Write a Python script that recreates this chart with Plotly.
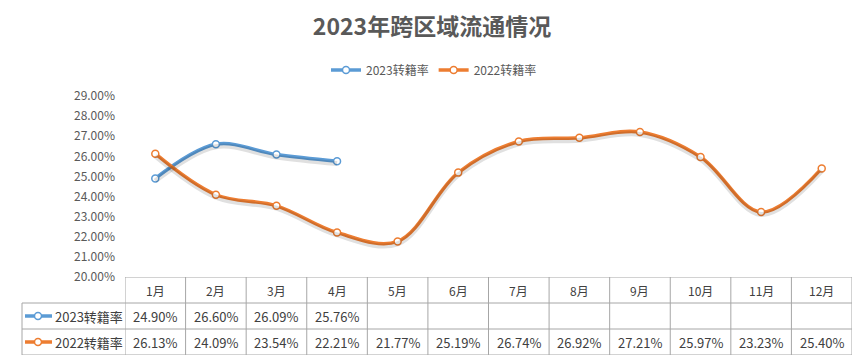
import plotly.graph_objects as go

months = ["1月", "2月", "3月", "4月", "5月", "6月", "7月", "8月", "9月", "10月", "11月", "12月"]
rate_2023 = [24.90, 26.60, 26.09, 25.76, None, None, None, None, None, None, None, None]
rate_2022 = [26.13, 24.09, 23.54, 22.21, 21.77, 25.19, 26.74, 26.92, 27.21, 25.97, 23.23, 25.40]
series_names = ["2023转籍率", "2022转籍率"]
series_colors = ["#5B9BD5", "#ED7D31"]
title_text = "2023年跨区域流通情况"

FONT = "Noto Sans CJK SC, Microsoft YaHei, sans-serif"
TXT = "#404040"
AX = "#595959"
GRID = "#a6a6a6"

# page body adds an 8px offset; compensate
OFF = 8
W, H = 865, 362
ML = 125 - OFF
MT = 96 - OFF
MR = W - (852 - OFF)
MB = H - (355 - OFF)
PW = W - ML - MR
PH = H - MT - MB
table_h = 78
split = table_h / PH


def px_x(p):
    return (p - OFF - ML) / PW


fig = go.Figure()

series = [rate_2023, rate_2022]
# soft shadow
for vals in series:
    fig.add_trace(go.Scatter(
        x=months, y=vals, mode="lines", yaxis="y3",
        line=dict(color="rgba(0,0,0,0.12)", width=5, shape="spline", smoothing=1.0),
        hoverinfo="skip", showlegend=False))
for name, vals, col in zip(series_names, series, series_colors):
    fig.add_trace(go.Scatter(
        x=months, y=vals, name=name, mode="lines+markers",
        line=dict(color=col, width=3.5, shape="spline", smoothing=1.0),
        marker=dict(symbol="circle", size=7, color="white", line=dict(color=col, width=1.5)),
    ))

shapes = []
# table grid
for i in range(len(months) + 1):
    shapes.append(dict(type="line", xref="x", yref="y2", x0=i - 0.5, x1=i - 0.5, y0=0, y1=3,
                       line=dict(color=GRID, width=1)))
for r in [0, 1, 2, 3]:
    if r == 3:
        shapes.append(dict(type="line", xref="x", yref="y2", x0=-0.5, x1=len(months) - 0.5, y0=r, y1=r,
                           line=dict(color=GRID, width=1)))
    else:
        shapes.append(dict(type="line", xref="paper", yref="y2", x0=px_x(22), x1=1, y0=r, y1=r,
                           line=dict(color=GRID, width=1)))
shapes.append(dict(type="line", xref="paper", yref="y2", x0=px_x(22), x1=px_x(22), y0=0, y1=2,
                   line=dict(color=GRID, width=1)))

annotations = []
for m in months:
    annotations.append(dict(x=m, y=2.5, xref="x", yref="y2", text=m, showarrow=False,
                            font=dict(family=FONT, size=12, color=TXT)))
for row_y, name, vals, col in zip([1.5, 0.5], series_names, series, series_colors):
    for m, v in zip(months, vals):
        if v is not None:
            annotations.append(dict(x=m, y=row_y, xref="x", yref="y2", text=f"{v:.2f}%", showarrow=False,
                                    font=dict(family=FONT, size=13, color=TXT)))
    # legend glyph in row label
    shapes.append(dict(type="line", xref="paper", yref="y2", x0=px_x(25), x1=px_x(52),
                       y0=row_y, y1=row_y, line=dict(color=col, width=3.5)))
    shapes.append(dict(type="circle", xref="paper", yref="y2", xsizemode="pixel", ysizemode="pixel",
                       xanchor=px_x(38), yanchor=row_y, x0=-3.5, x1=3.5, y0=-3.5, y1=3.5,
                       fillcolor="white", line=dict(color=col, width=1.5)))
    annotations.append(dict(x=px_x(53), y=row_y, xref="paper", yref="y2", text=name, showarrow=False,
                            xanchor="left", font=dict(family=FONT, size=13, color=TXT)))

fig.update_layout(
    width=W, height=H, autosize=False,
    margin=dict(l=ML, r=MR, t=MT, b=MB, autoexpand=False),
    paper_bgcolor="white", plot_bgcolor="white",
    title=dict(text=f"<b>{title_text}</b>", x=(432 - OFF) / W, xref="container", y=1 - (27 - OFF) / H,
               yref="container", xanchor="center", yanchor="middle",
               font=dict(family=FONT, size=23, color=AX)),
    legend=dict(orientation="h", x=px_x(434), xanchor="center", y=1 + 26 / PH, yanchor="middle",
                font=dict(family=FONT, size=12, color=AX), traceorder="normal"),
    xaxis=dict(range=[-0.5, len(months) - 0.5], showticklabels=False, showgrid=False, zeroline=False,
               showline=False, ticks=""),
    yaxis=dict(domain=[split, 1], range=[20, 29], dtick=1, tickformat=".2f", ticksuffix="%",
               showgrid=False, zeroline=False, showline=False, ticks="", ticklabelstandoff=9,
               tickfont=dict(family=FONT, size=12, color=AX)),
    yaxis2=dict(domain=[0, split], range=[0, 3], visible=False),
    yaxis3=dict(overlaying="y", range=[20 + 0.12, 29 + 0.12], visible=False),
    shapes=shapes, annotations=annotations,
    showlegend=True,
)

fig.write_html("out.html")
